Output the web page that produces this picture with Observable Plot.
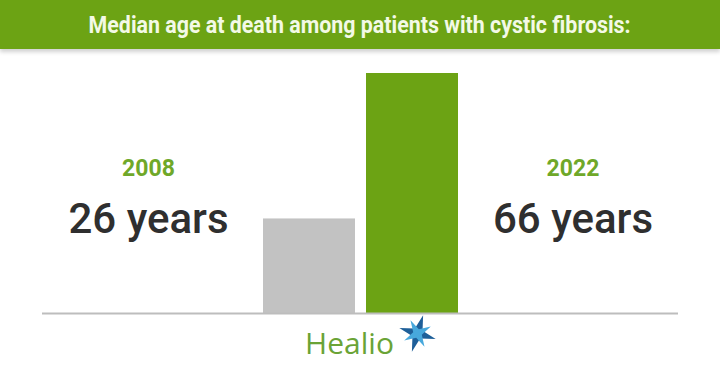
<!DOCTYPE html>
<html>
<head>
<meta charset="utf-8">
<script src="https://cdn.jsdelivr.net/npm/d3@7"></script>
<script src="https://cdn.jsdelivr.net/npm/@observablehq/plot@0.6"></script>
<style>
  html, body { margin: 0; padding: 0; background: #fff; width: 720px; height: 377px; overflow: hidden; }
  #header { position: relative; z-index: 2; height: 49px; background: #6ca314; box-shadow: 0 3px 4px rgba(0,0,0,0.18); text-align: center; }
  #title { display: inline-block; font-family: Roboto, sans-serif; font-weight: 700; font-size: 23px; color: #f3f9e6; line-height: 52px; white-space: nowrap; transform-origin: 50% 50%; }
  #chart svg { display: block; }
</style>
</head>
<body>
<div id="header"><span id="title"></span></div>
<div id="chart"></div>
<script>
const titleText = "Median age at death among patients with cystic fibrosis:";
const years = ["2008", "2022"];
const ages = [26, 66];
const ageLabels = ["26 years", "66 years"];
const barColors = ["#c2c2c2", "#6ca314"];
const brand = "Healio";

const t = document.getElementById("title");
t.textContent = titleText;
const w = t.getBoundingClientRect().width;
t.style.transform = `scaleX(${542 / w})`;

const data = years.map((y, i) => ({year: y, age: ages[i], label: ageLabels[i], color: barColors[i]}));

const star4 = (rot) => ({
  draw(ctx, size) {
    const r = Math.sqrt(size / Math.PI);
    const ri = r * 0.3;
    for (let k = 0; k < 8; k++) {
      const a = rot + k * Math.PI / 4;
      const rr = k % 2 === 0 ? r : ri;
      const px = rr * Math.cos(a), py = rr * Math.sin(a);
      if (k === 0) ctx.moveTo(px, py); else ctx.lineTo(px, py);
    }
    ctx.closePath();
  }
});

const plot = Plot.plot({
  width: 720,
  height: 328,
  marginTop: 24,
  marginBottom: 64,
  marginLeft: 42,
  marginRight: 42,
  x: {type: "band", domain: years, range: [262, 458], paddingInner: 0.107, paddingOuter: 0, axis: null},
  y: {domain: [0, 66], axis: null},
  style: {background: "#fff"},
  marks: [
    Plot.barY(data, {x: "year", y: "age", fill: "color"}),
    Plot.ruleY([0], {stroke: "#bdbdbd", strokeWidth: 2}),
    // year labels
    Plot.text(data.slice(0, 1), {x: "year", text: "year", frameAnchor: "top", lineAnchor: "bottom", dy: 102, dx: -161, fill: "#6fa829", fontWeight: 700, fontSize: 23, fontFamily: "Roboto"}),
    Plot.text(data.slice(1, 2), {x: "year", text: "year", frameAnchor: "top", lineAnchor: "bottom", dy: 102, dx: 160.5, fill: "#6fa829", fontWeight: 700, fontSize: 23, fontFamily: "Roboto"}),
    // value labels
    Plot.text(data.slice(0, 1), {x: "year", text: "label", frameAnchor: "top", lineAnchor: "bottom", dy: 159, dx: -161, fill: "#2f2f2f", fontWeight: 500, fontSize: 42, fontFamily: "Roboto"}),
    Plot.text(data.slice(1, 2), {x: "year", text: "label", frameAnchor: "top", lineAnchor: "bottom", dy: 159, dx: 160.5, fill: "#2f2f2f", fontWeight: 500, fontSize: 42, fontFamily: "Roboto"}),
    // logo
    Plot.text([brand], {text: d => d, frameAnchor: "bottom", lineAnchor: "bottom", dy: 40, dx: -11, fill: "#6aa336", fontSize: 30, fontFamily: "Open Sans"}),
    Plot.dot([0], {frameAnchor: "bottom", dx: 57, dy: 20, r: 19, symbol: star4(-Math.PI / 2 + 0.3), fill: "#1e5f99"}),
    Plot.dot([0], {frameAnchor: "bottom", dx: 57, dy: 20, r: 15, symbol: star4(Math.PI / 4 + 0.3), fill: "#47a8dc"})
  ]
});
document.getElementById("chart").appendChild(plot);
</script>
</body>
</html>
